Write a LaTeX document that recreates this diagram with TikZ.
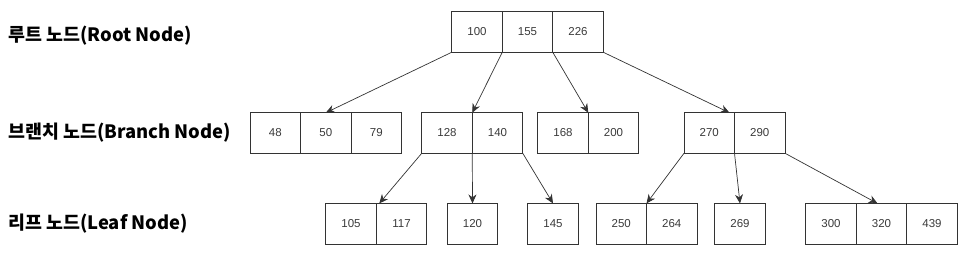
\documentclass[tikz,border=0pt]{standalone}
\usepackage{fontspec}
\setmainfont{Liberation Sans}
\newfontfamily\kofont{Noto Sans CJK KR}
\usepackage{tikz}
\usetikzlibrary{positioning, arrows.meta}
\usepackage{xcolor}
\definecolor{btreeline}{HTML}{333333}
\definecolor{btreetext}{HTML}{3A3A3A}

\begin{document}
\begin{tikzpicture}[x=1pt, y=-1pt,
  cell/.style={draw=btreeline, line width=0.8pt, minimum width=50.5pt, minimum height=40.5pt,
    inner sep=0pt, outer sep=0pt, text=btreetext, font=\fontsize{11.5}{13}\selectfont},
  link/.style={-{Stealth[length=9pt, width=8pt]}, btreeline, line width=0.7pt},
  level/.style={anchor=west, inner sep=0pt, font=\kofont\bfseries\fontsize{18.4}{21}\selectfont}]
\useasboundingbox (0,0) rectangle (963,253);

% row labels
\node[level] (lroot) at (8,36) {루트 노드(Root Node)};
\node[level] (lbranch) at (8,133) {브랜치 노드(Branch Node)};
\node[level] (lleaf) at (8,224) {리프 노드(Leaf Node)};

% root
\node[cell] (r1) at (477,32) {100};
\node[cell, right=0pt of r1] (r2) {155};
\node[cell, right=0pt of r2] (r3) {226};

% branch nodes
\node[cell] (b1a) at (275.25,133) {48};
\node[cell, right=0pt of b1a] (b1b) {50};
\node[cell, right=0pt of b1b] (b1c) {79};
\node[cell] (b2a) at (447,133) {128};
\node[cell, right=0pt of b2a] (b2b) {140};
\node[cell] (b3a) at (563,133) {168};
\node[cell, right=0pt of b3a] (b3b) {200};
\node[cell] (b4a) at (709.25,133) {270};
\node[cell, right=0pt of b4a] (b4b) {290};

% leaf nodes
\node[cell] (l1a) at (351,223.7) {105};
\node[cell, right=0pt of l1a] (l1b) {117};
\node[cell] (l2) at (472.5,223.7) {120};
\node[cell] (l3) at (553,223.7) {145};
\node[cell] (l4a) at (621.25,223.7) {250};
\node[cell, right=0pt of l4a] (l4b) {264};
\node[cell] (l5) at (740,223.7) {269};
\node[cell] (l6a) at (831,223.7) {300};
\node[cell, right=0pt of l6a] (l6b) {320};
\node[cell, right=0pt of l6b] (l6c) {439};

% pointers
\draw[link] (r1.south west) -- (b1b.north);
\draw[link] (r1.south east) -- (b2a.north east);
\draw[link] (r2.south east) -- (b3a.north east);
\draw[link] (r3.south east) -- ([xshift=-5pt]b4a.north east);
\draw[link] (b2a.south west) -- ([xshift=3pt]l1a.north east);
\draw[link] (b2a.south east) -- (l2.north);
\draw[link] (b2b.south east) -- (l3.north);
\draw[link] (b4a.south west) -- (l4a.north east);
\draw[link] (b4a.south east) -- (l5.north);
\draw[link] (b4b.south east) -- ([xshift=-4pt]l6b.north);
\end{tikzpicture}
\end{document}
